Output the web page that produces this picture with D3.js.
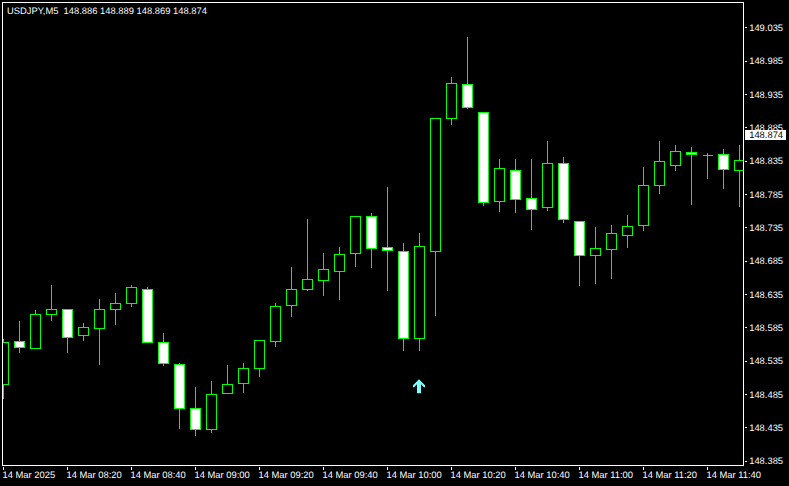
<!DOCTYPE html>
<html>
<head>
<meta charset="utf-8">
<script src="https://cdn.jsdelivr.net/npm/d3@7"></script>
<style>
html,body{margin:0;padding:0;background:#000;overflow:hidden}
svg{display:block}
text{font-family:"Liberation Sans",Arial,sans-serif;font-size:9.4px;text-rendering:geometricPrecision}
</style>
</head>
<body>
<script>
const title = "USDJPY,M5  148.886 148.889 148.869 148.874";
const lastPrice = 148.874;
const signalIndex = 26;
const signalPrice = 148.498;
const timeLabels = ["14 Mar 2025","14 Mar 08:20","14 Mar 08:40","14 Mar 09:00","14 Mar 09:20","14 Mar 09:40","14 Mar 10:00","14 Mar 10:20","14 Mar 10:40","14 Mar 11:00","14 Mar 11:20","14 Mar 11:40"];
const priceTicks = [149.035,148.985,148.935,148.885,148.835,148.785,148.735,148.685,148.635,148.585,148.535,148.485,148.435,148.385];
const opens = [148.501,148.565,148.555,148.606,148.613,148.574,148.585,148.613,148.622,148.643,148.564,148.531,148.465,148.433,148.487,148.502,148.525,148.565,148.619,148.643,148.656,148.670,148.697,148.753,148.706,148.700,148.569,148.700,148.899,148.951,148.909,148.775,148.822,148.780,148.766,148.832,148.745,148.694,148.703,148.724,148.739,148.799,148.829,148.849,148.844,148.846,148.822];
const highs = [148.570,148.596,148.613,148.651,148.615,148.594,148.629,148.639,148.650,148.648,148.578,148.534,148.497,148.506,148.531,148.533,148.567,148.624,148.678,148.749,148.698,148.707,148.753,148.758,148.798,148.713,148.728,148.900,148.963,149.022,148.909,148.839,148.839,148.840,148.867,148.843,148.745,148.738,148.740,148.755,148.827,148.867,148.861,148.858,148.849,148.855,148.861];
const lows = [148.480,148.548,148.555,148.597,148.548,148.566,148.530,148.591,148.617,148.564,148.529,148.434,148.424,148.429,148.487,148.488,148.513,148.557,148.602,148.641,148.634,148.628,148.677,148.676,148.641,148.552,148.551,148.604,148.891,148.914,148.769,148.760,148.758,148.733,148.761,148.743,148.649,148.652,148.659,148.706,148.731,148.787,148.822,148.771,148.809,148.794,148.767];
const closes = [148.564,148.556,148.606,148.613,148.571,148.586,148.613,148.622,148.646,148.564,148.532,148.465,148.433,148.486,148.501,148.525,148.567,148.618,148.643,148.658,148.673,148.696,148.753,148.704,148.701,148.569,148.708,148.900,148.952,148.916,148.773,148.825,148.778,148.763,148.832,148.748,148.694,148.705,148.727,148.738,148.799,148.835,148.850,148.846,148.844,148.823,148.837];

const W = 789, H = 486;
const plot = {left:3, right:743, top:3, bottom:465};
const GREEN = "#00ff00", WHITE = "#ffffff";

const x = d3.scaleLinear().domain([0,46]).range([3.5,739.5]);
const y = d3.scaleLinear().domain([148.835,148.385]).range([161.5,461.5]);
const snap = v => Math.round(v - 0.5) + 0.5;

const svg = d3.select("body").append("svg").attr("width",W).attr("height",H)
  .style("shape-rendering","crispEdges");
svg.append("rect").attr("width",W).attr("height",H).attr("fill","#000");
svg.append("defs").append("clipPath").attr("id","plotClip").append("rect")
  .attr("x",plot.left).attr("y",plot.top).attr("width",plot.right-plot.left).attr("height",plot.bottom-plot.top);

const candles = opens.map((o,i)=>({i,o,h:highs[i],l:lows[i],c:closes[i]}));
const g = svg.append("g").attr("clip-path","url(#plotClip)");

g.selectAll("line.wick").data(candles).join("line").attr("class","wick")
  .attr("x1",d=>x(d.i)).attr("x2",d=>x(d.i))
  .attr("y1",d=>snap(y(d.h))).attr("y2",d=>snap(y(d.l)))
  .attr("stroke",GREEN).attr("stroke-width",1);

g.selectAll("path.body").data(candles).join("path").attr("class","body")
  .attr("d",d=>{
    const t = snap(y(Math.max(d.o,d.c))), b = snap(y(Math.min(d.o,d.c))), l = x(d.i)-5;
    return `M${l},${t}H${l+10}V${b}H${l}Z`;
  })
  .attr("fill",d=>d.c>d.o ? "#000" : WHITE)
  .attr("stroke",GREEN).attr("stroke-width",1);

// signal arrow, placed by data
const ax = x(signalIndex)-0.5, ay = y(signalPrice);
const arrowShape = [[0,-7],[6,-1],[6,1],[5,1],[2,-2],[2,7],[-2,7],[-2,-2],[-5,1],[-6,1],[-6,-1]];
svg.append("path")
  .attr("d",d3.line().x(p=>ax+p[0]).y(p=>ay+p[1])(arrowShape)+"Z")
  .attr("fill","#7fffff").attr("shape-rendering","auto");

// frame
svg.append("path").attr("d",`M2.5,${plot.bottom+.5}V2.5H${plot.right+.5}V${plot.bottom+.5}H2.5`)
  .attr("fill","none").attr("stroke",WHITE);

// right axis
const yAxis = d3.axisRight(y).tickValues(priceTicks).tickFormat(d3.format(".3f")).offset(-0.5);
const ya = svg.append("g").attr("transform",`translate(${plot.right+.5},0)`).call(yAxis);
ya.select(".domain").remove();
ya.selectAll("line").attr("stroke",WHITE).attr("x1",1).attr("x2",3);
ya.selectAll("text").attr("fill",WHITE).attr("x",5.7).attr("dy","0.36em");

// bottom axis
const tickIdx = timeLabels.map((_,k)=>k*4);
const xAxis = d3.axisBottom(x).tickValues(tickIdx).tickFormat((d,k)=>timeLabels[k]).offset(0);
const xa = svg.append("g").attr("transform",`translate(0,${plot.bottom+.5})`).call(xAxis);
xa.select(".domain").remove();
xa.selectAll("line").attr("stroke",WHITE).attr("y1",1).attr("y2",4);
xa.selectAll("text").attr("fill",WHITE).attr("text-anchor","start").attr("x",-1).attr("y",5.8).attr("dy","0.71em");

// title
svg.append("text").attr("x",7).attr("y",14).attr("fill",WHITE).style("white-space","pre").text(title);

// last price tag
const ly = y(lastPrice);
svg.append("rect").attr("x",745).attr("y",Math.round(ly)-6).attr("width",41).attr("height",10).attr("fill",WHITE);
svg.append("text").attr("x",749.2).attr("y",Math.round(ly)+2).attr("fill","#000").text(d3.format(".3f")(lastPrice));
</script>
</body>
</html>
